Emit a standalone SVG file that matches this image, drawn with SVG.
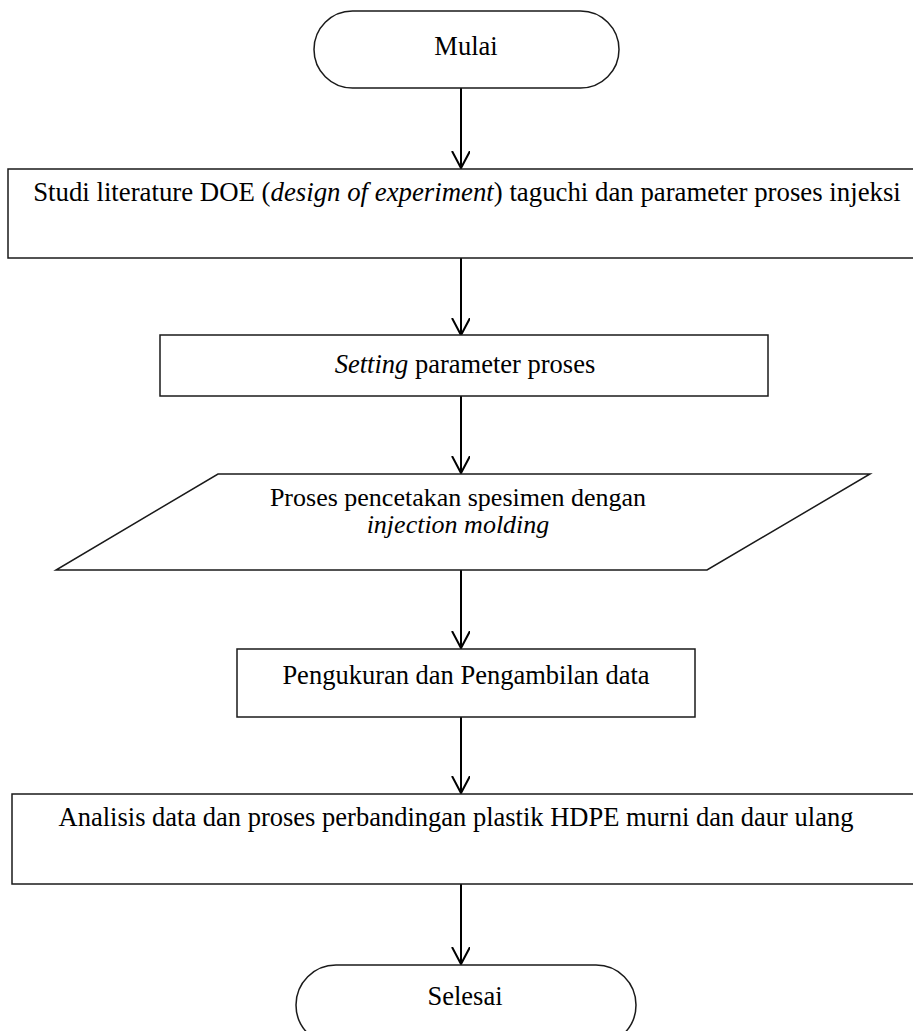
<svg xmlns="http://www.w3.org/2000/svg" width="913" height="1031" viewBox="0 0 913 1031">
<style>
.n{fill:#fff;stroke:#1a1a1a;stroke-width:1.5}
.t{font-family:"Liberation Serif","Times New Roman",serif;font-size:26.5px;fill:#000}
.m{text-anchor:middle}
.i{font-style:italic}
.c{stroke:#000;stroke-width:2;fill:none}
</style>
<defs>
<marker id="a" markerWidth="20" markerHeight="20" refX="17" refY="9" orient="auto" markerUnits="userSpaceOnUse" viewBox="0 0 20 20">
<path d="M0,0 L17,9 L0,18" fill="none" stroke="#000" stroke-width="2"/>
</marker>
</defs>
<rect width="913" height="1031" fill="#fff"/>
<g id="connectors">
<path class="c" d="M461,88 V168" marker-end="url(#a)"/>
<path class="c" d="M461,258 V335" marker-end="url(#a)"/>
<path class="c" d="M461,396 V473" marker-end="url(#a)"/>
<path class="c" d="M461,570 V648" marker-end="url(#a)"/>
<path class="c" d="M461,717 V793" marker-end="url(#a)"/>
<path class="c" d="M461,884 V964" marker-end="url(#a)"/>
</g>
<g id="mulai">
<rect class="n" x="314" y="11" width="305" height="77" rx="38.5"/>
<text class="t m" x="466" y="55">Mulai</text>
</g>
<g id="studi">
<rect class="n" x="8" y="169" width="920" height="89"/>
<text class="t m" x="467" y="201" style="font-size:26.8px">Studi literature DOE (<tspan class="i">design of experiment</tspan>) taguchi dan parameter proses injeksi</text>
</g>
<g id="setting">
<rect class="n" x="160" y="335" width="608" height="61"/>
<text class="t m" x="465" y="373"><tspan class="i">Setting</tspan> parameter proses</text>
</g>
<g id="pencetakan">
<polygon class="n" points="218,474 870,474 707,570 56,570"/>
<text class="t m" x="458" y="506" style="font-size:26px">Proses pencetakan spesimen dengan</text>
<text class="t m i" x="458" y="533" style="font-size:26px">injection molding</text>
</g>
<g id="pengukuran">
<rect class="n" x="237" y="649" width="458" height="68"/>
<text class="t m" x="466" y="684">Pengukuran dan Pengambilan data</text>
</g>
<g id="analisis">
<rect class="n" x="12" y="794" width="920" height="90"/>
<text class="t m" x="456" y="826">Analisis data dan proses perbandingan plastik HDPE murni dan daur ulang</text>
</g>
<g id="selesai">
<rect class="n" x="296" y="965" width="340" height="80" rx="40"/>
<text class="t m" x="465" y="1005">Selesai</text>
</g>
</svg>
